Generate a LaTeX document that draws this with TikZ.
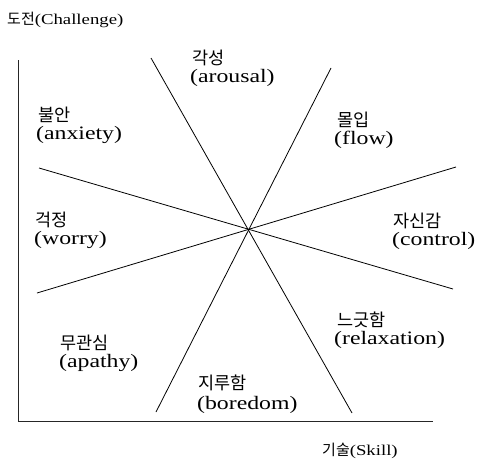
\documentclass[tikz,border=0pt]{standalone}
\usepackage{fontspec}
\setmainfont{Liberation Serif}[FakeStretch=1.25]
\newfontfamily\kr{Noto Sans CJK KR}
\begin{document}
\begin{tikzpicture}[x=1pt,y=-1pt,
  kr/.style={font=\kr\fontsize{17.5}{20}\selectfont, anchor=base west, inner sep=0pt},
  en/.style={font=\fontsize{19}{21}\selectfont, anchor=base west, inner sep=0pt},
  axlabel/.style={font=\fontsize{15}{17}\selectfont, anchor=base west, inner sep=0pt},
  axis/.style={line width=1pt, black!85},
  ray/.style={line width=0.8pt, black}]
\useasboundingbox (0,0) rectangle (478,466);
% axes
\coordinate (o) at (18,421);
\coordinate (ytop) at (18,60);
\coordinate (xend) at (433,421);
\draw[axis] (ytop) -- (o) -- (xend);
% rays through centre
\coordinate (c) at (248,230);
\coordinate (a1) at (151,58);  \coordinate (a2) at (352,413);
\coordinate (b1) at (331,68);  \coordinate (b2) at (156,412);
\coordinate (c1) at (39,168);  \coordinate (c2) at (453,289);
\coordinate (d1) at (456,167); \coordinate (d2) at (37,293);
\draw[ray] (a1) -- (a2);
\draw[ray] (b1) -- (b2);
\draw[ray] (c1) -- (c2);
\draw[ray] (d1) -- (d2);
% axis labels
\node[axlabel] (chal) at (7,24) {{\kr 도전}(Challenge)};
\node[axlabel] (skill) at (322,455) {{\kr 기술}(Skill)};
% region labels
\node[kr] (arousalK) at (192,64) {각성};
\node[en] (arousalE) at (190,82) {(arousal)};
\node[kr] (anxK) at (38,121) {불안};
\node[en] (anxE) at (36,139) {(anxiety)};
\node[kr] (flowK) at (337,126) {몰입};
\node[en] (flowE) at (334,144) {(flow)};
\node[kr] (worK) at (35,226) {걱정};
\node[en] (worE) at (34,244) {(worry)};
\node[kr] (conK) at (393,227) {자신감};
\node[en] (conE) at (392,245) {(control)};
\node[kr] (relK) at (337,326) {느긋함};
\node[en] (relE) at (334,344) {(relaxation)};
\node[kr] (apaK) at (60,349) {무관심};
\node[en] (apaE) at (59,367) {(apathy)};
\node[kr] (borK) at (198,389) {지루함};
\node[en] (borE) at (197,409) {(boredom)};
\end{tikzpicture}
\end{document}
